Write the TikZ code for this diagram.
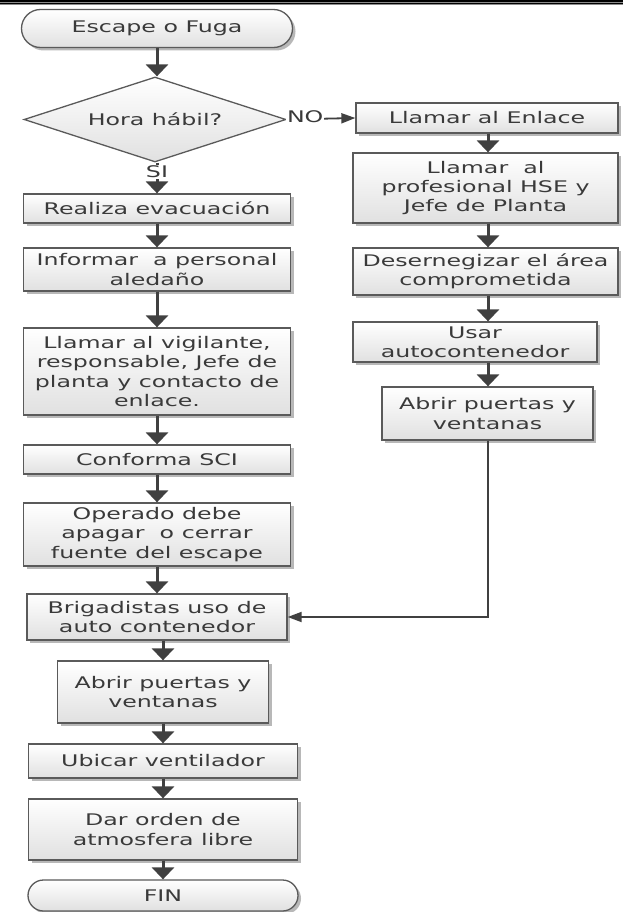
\documentclass[tikz,border=0pt]{standalone}
\usepackage{fontspec}
\newfontfamily\dia[FakeStretch=1.48]{DejaVu Sans}
\usetikzlibrary{shapes.geometric,shapes.misc,arrows.meta,shadows,calc}
\definecolor{txt}{HTML}{3A3A3A}
\definecolor{edge}{HTML}{5A5A5A}
\definecolor{arrc}{HTML}{404040}
\begin{document}
\begin{tikzpicture}[x=1pt,y=-1pt,
 base/.style={draw=edge, line width=1.3pt, top color=white, bottom color=black!12, text=txt,
   font=\dia\fontsize{16}{19.4}\selectfont, align=center, inner sep=0pt},
 shad/.style={general shadow={fill=black!28, shadow xshift=3pt, shadow yshift=-3pt}},
 box/.style={base, shad, rectangle},
 term/.style={base, shad, rounded rectangle},
 dec/.style={base, diamond},
 plain/.style={text=txt, font=\dia\fontsize{16}{19.4}\selectfont, align=center, inner sep=0pt},
 flow/.style={draw=arrc, line width=3pt, -{Triangle[length=12pt,width=22pt]}},
 thinarr/.style={draw=arrc, line width=1.8pt, -{Triangle[length=14pt,width=10pt]}},
 lab/.style={fill=white, text=txt, font=\dia\fontsize{16}{19}\selectfont, inner sep=1pt}
]
\useasboundingbox (0,0) rectangle (623,912);
% top rule
\fill[black!45] (0,0) rectangle (623,5);
\draw[black, line width=1.8pt] (0,0.9) -- (623,0.9);
\draw[black, line width=1.4pt] (0,3.8) -- (623,3.8);

\coordinate (lx) at (157,0);
\coordinate (lx2) at (163,0);
\coordinate (rx) at (488,0);

% left column
\node[term, minimum width=271, minimum height=38] (start) at (157,28.5) {Escape o Fuga};
\node[dec, minimum width=262, minimum height=85] (dec) at (155,119.5) {};
\node[plain] (dect) at (dec.center) {Hora hábil?};
\node[box, minimum width=267, minimum height=29] (real) at (157,208.5) {Realiza evacuación};
\node[box, minimum width=267, minimum height=43] (inf) at (157,269.5) {Informar\ \ a personal\\aledaño};
\node[box, minimum width=267, minimum height=87] (vig) at (157,371.5) {Llamar al vigilante,\\responsable, Jefe de\\planta y contacto de\\enlace.};
\node[box, minimum width=267, minimum height=29] (sci) at (157,459.5) {Conforma SCI};
\node[box, minimum width=267, minimum height=63] (ope) at (157,534.5) {Operado debe\\apagar\ \ o cerrar\\fuente del escape};
\node[box, minimum width=260, minimum height=46] (bri) at (157,617) {Brigadistas uso de\\auto contenedor};
\node[box, minimum width=211, minimum height=62] (abr) at (163,692) {Abrir puertas y\\ventanas};
\node[box, minimum width=269, minimum height=34] (ubi) at (163,761) {Ubicar ventilador};
\node[box, minimum width=269, minimum height=61] (dar) at (163,829.5) {Dar orden de\\atmosfera libre};
\node[term, minimum width=270, minimum height=31] (fin) at (163,895.5) {FIN};

% right column
\node[box, minimum width=262, minimum height=30] (enl) at (487,118) {Llamar al Enlace};
\node[box, minimum width=265, minimum height=70] (hse) at (485.5,188) {Llamar\ \ al\\profesional HSE y\\Jefe de Planta};
\node[box, minimum width=265, minimum height=47] (des) at (485.5,271.5) {Desernegizar el área\\comprometida};
\node[box, minimum width=244, minimum height=40] (usa) at (475,342) {Usar\\autocontenedor};
\node[box, minimum width=211, minimum height=53] (abr2) at (487.5,413.5) {Abrir puertas y\\ventanas};

% connectors left
\draw[flow] (start.south -| lx) -- (dec.north -| lx);
\draw[flow] (dec.south -| lx) -- node[lab, pos=0.3]{SI} (real.north -| lx);
\draw[flow] (real.south -| lx) -- (inf.north -| lx);
\draw[flow] (inf.south -| lx) -- (vig.north -| lx);
\draw[flow] (vig.south -| lx) -- (sci.north -| lx);
\draw[flow] (sci.south -| lx) -- (ope.north -| lx);
\draw[flow] (ope.south -| lx) -- (bri.north -| lx);
\draw[flow] (bri.south -| lx2) -- (abr.north -| lx2);
\draw[flow] (abr.south -| lx2) -- (ubi.north -| lx2);
\draw[flow] (ubi.south -| lx2) -- (dar.north -| lx2);
\draw[flow] (dar.south -| lx2) -- (fin.north -| lx2);

% NO branch
\draw[thinarr] (dec.east) -- node[lab, pos=0.27, yshift=2pt]{NO} (enl.west);

% connectors right
\draw[flow] (enl.south -| rx) -- (hse.north -| rx);
\draw[flow] (hse.south -| rx) -- (des.north -| rx);
\draw[flow] (des.south -| rx) -- (usa.north -| rx);
\draw[flow] (usa.south -| rx) -- (abr2.north -| rx);
\draw[thinarr] (abr2.south -| rx) |- (bri.east);
\end{tikzpicture}
\end{document}
